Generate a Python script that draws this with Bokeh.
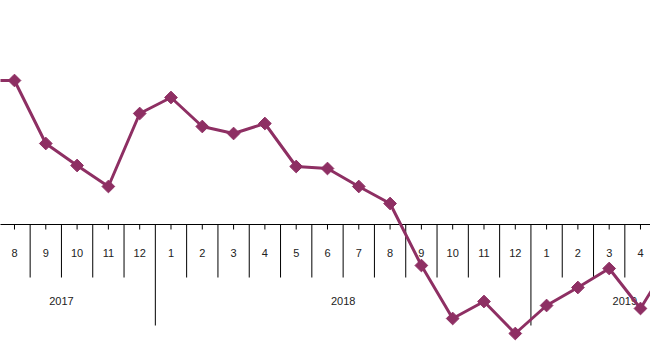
import math
from bokeh.plotting import figure
from bokeh.models import Range1d, ColumnDataSource
from bokeh.core.properties import value
from bokeh.embed import file_html
from bokeh.resources import INLINE

# Data
years = ["2017"] * 6 + ["2018"] * 12 + ["2019"] * 6
months = ["7", "8", "9", "10", "11", "12",
          "1", "2", "3", "4", "5", "6", "7", "8", "9", "10", "11", "12",
          "1", "2", "3", "4", "5", "6"]
values = [14.4, 14.4, 8.1, 5.9, 3.8, 11.1,
          12.7, 9.8, 9.1, 10.1, 5.8, 5.6, 3.8, 2.1, -4.1, -9.4, -7.7, -10.9,
          -8.1, -6.3, -4.4, -8.4, -3.3, -2.0]
year_labels = ["2017", "2018", "2019"]

x = list(range(len(values)))
x_lo, x_hi = 0.553, 21.32

p = figure(width=650, height=360, output_backend="svg", toolbar_location=None,
           x_range=Range1d(x_lo, x_hi), y_range=Range1d(-13.6, 22.4),
           min_border=0, background_fill_color="white", border_fill_color="white")
p.xaxis.visible = False
p.yaxis.visible = False
p.xgrid.visible = False
p.ygrid.visible = False
p.outline_line_color = None

# axis line at zero
p.segment(x0=[x[0] - 1], x1=[x[-1] + 1], y0=[0], y1=[0], line_color="black", line_width=1)
# month ticks
p.segment(x0=x, x1=x, y0=[0] * len(x), y1=[-0.5] * len(x), line_color="black", line_width=1)
# separators
sep_x, sep_y1 = [], []
for i in range(1, len(x)):
    sep_x.append(i - 0.5)
    sep_y1.append(-10.1 if years[i] != years[i - 1] else -5.3)
p.segment(x0=sep_x, x1=sep_x, y0=[0] * len(sep_x), y1=sep_y1, line_color="black", line_width=1)

# month labels (only those whose centre lies in view)
vis = [i for i in x if x_lo <= i <= x_hi]
p.text(x=vis, y=[-2.8] * len(vis), text=[months[i] for i in vis],
       text_align="center", text_baseline="middle",
       text_font=value("Liberation Sans"), text_font_size="11px", text_color="#222222")

# year labels centered on year spans
yl_x = []
for yr in year_labels:
    idx = [i for i, v in enumerate(years) if v == yr]
    yl_x.append((idx[0] + idx[-1]) / 2)
p.text(x=yl_x, y=[-7.6] * len(yl_x), text=year_labels, text_align="center", text_baseline="middle",
       text_font=value("Liberation Sans"), text_font_size="11px", text_color="#222222")

src = ColumnDataSource(dict(x=x, y=values))
color = "#8E2F63"
p.line("x", "y", source=src, line_color=color, line_width=3)
p.scatter("x", "y", source=src, marker="square", angle=math.pi / 4, size=9,
          fill_color=color, line_color=color)

open("out.html", "w").write(file_html(p, INLINE))
